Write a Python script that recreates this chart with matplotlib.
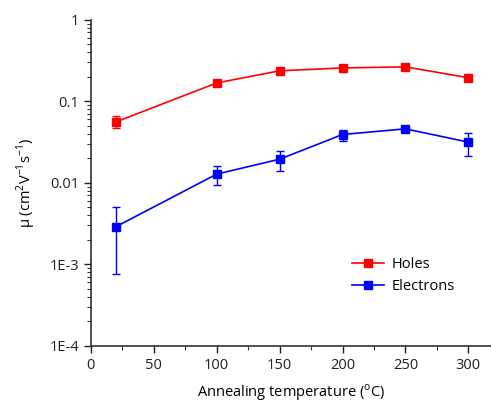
import matplotlib.pyplot as plt
from matplotlib.lines import Line2D
from matplotlib.ticker import FixedLocator, FuncFormatter, LogLocator, MultipleLocator, NullFormatter

# data
temps = [20, 100, 150, 200, 250, 300]
holes = [0.056, 0.168, 0.237, 0.257, 0.265, 0.195]
holes_lo = [0.047, 0.160, 0.226, 0.246, 0.254, 0.186]
holes_hi = [0.066, 0.176, 0.248, 0.268, 0.276, 0.204]
electrons = [0.0029, 0.0128, 0.0195, 0.0392, 0.046, 0.0316]
elec_lo = [0.00076, 0.0093, 0.0140, 0.0327, 0.043, 0.0216]
elec_hi = [0.0051, 0.0162, 0.0249, 0.0447, 0.049, 0.0414]

plt.rcParams['font.family'] = ['Open Sans', 'DejaVu Sans']
plt.rcParams['mathtext.fontset'] = 'custom'
plt.rcParams['mathtext.rm'] = 'Open Sans'

fig = plt.figure(figsize=(4.91, 4.05), dpi=100)
ax = fig.add_axes([0.185, 0.146, 0.815, 0.805])

def err(v, lo, hi):
    return [[a - b for a, b in zip(v, lo)], [c - a for a, c in zip(v, hi)]]

ax.errorbar(temps, holes, yerr=err(holes, holes_lo, holes_hi), color='#ff0000',
            marker='s', ms=6, lw=1.2, elinewidth=1, capsize=3)
ax.errorbar(temps, electrons, yerr=err(electrons, elec_lo, elec_hi), color='#0000ff',
            marker='s', ms=6, lw=1.2, elinewidth=1, capsize=3)

ax.set_yscale('log')
ax.set_ylim(1e-4, 1)
ax.set_xlim(0, 318)

labels = {1: '1', 0.1: '0.1', 0.01: '0.01', 1e-3: '1E-3', 1e-4: '1E-4'}
ax.yaxis.set_major_locator(FixedLocator(list(labels.keys())))
ax.yaxis.set_major_formatter(FuncFormatter(lambda v, p: labels.get(round(v, 6), '')))
ax.yaxis.set_minor_locator(LogLocator(base=10, subs=range(2, 10)))
ax.yaxis.set_minor_formatter(NullFormatter())
ax.xaxis.set_major_locator(MultipleLocator(50))
ax.xaxis.set_minor_locator(MultipleLocator(25))

for s in ['top', 'right']:
    ax.spines[s].set_visible(False)
for s in ['left', 'bottom']:
    ax.spines[s].set_linewidth(1.2)
    ax.spines[s].set_color('#333333')
ax.tick_params(which='major', direction='out', length=5, width=1, labelsize=10.5, colors='#222222')
ax.tick_params(which='minor', direction='out', length=3, width=0.8, colors='#333333')

ax.set_xlabel('Annealing temperature ($^{\\mathrm{o}}$C)', fontsize=10.5, labelpad=7)
ax.set_ylabel('μ (cm$^{2}$V$^{-1}$s$^{-1}$)', fontsize=10.5, labelpad=8)

handles = [Line2D([], [], color='#ff0000', marker='s', ms=6, lw=1.2),
           Line2D([], [], color='#0000ff', marker='s', ms=6, lw=1.2)]
ax.legend(handles, ['Holes', 'Electrons'], loc='lower left', bbox_to_anchor=(0.62, 0.12),
          frameon=False, fontsize=10.5, handlelength=2.2, handletextpad=0.5, labelspacing=0.45)

fig.savefig('out.png', dpi=100)
